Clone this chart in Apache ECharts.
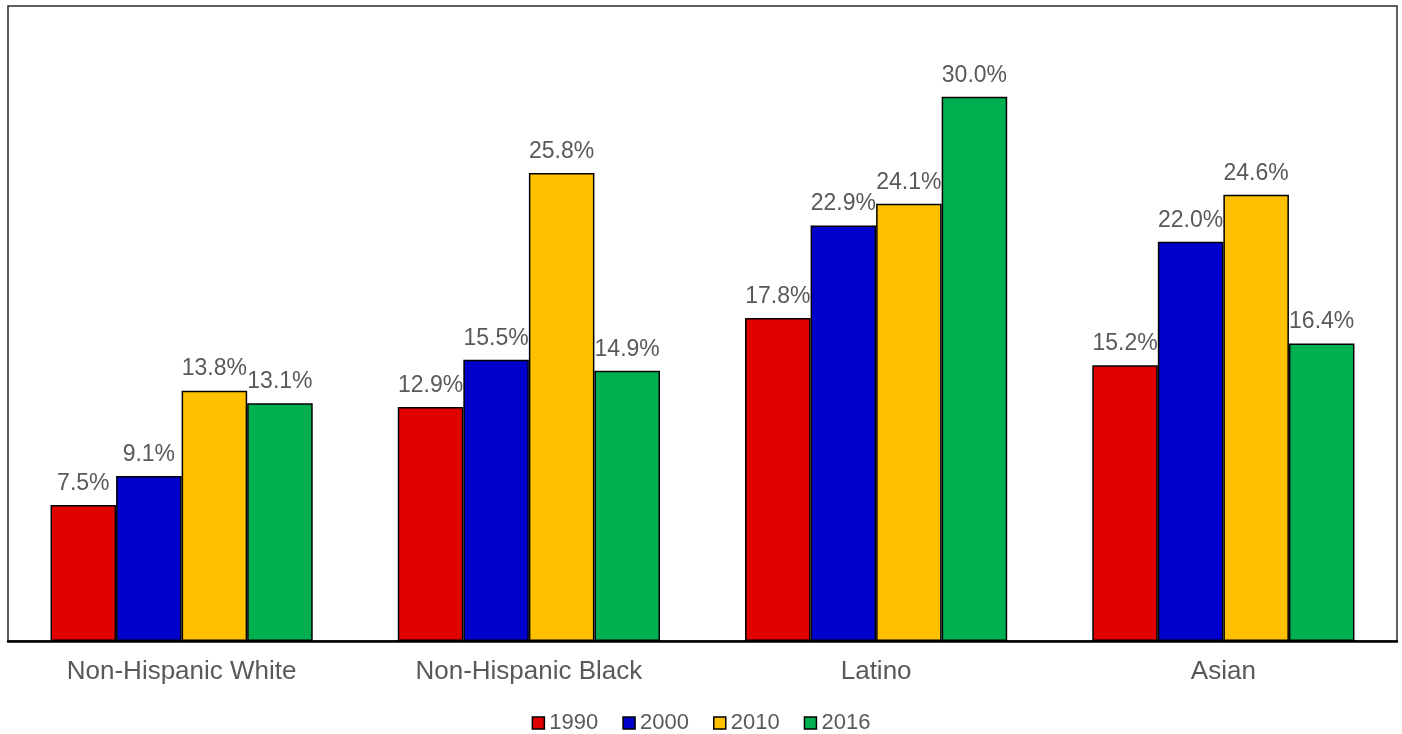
<!DOCTYPE html>
<html>
<head>
<meta charset="utf-8">
<script src="https://cdn.jsdelivr.net/npm/echarts@6/dist/echarts.min.js"></script>
<style>
  html, body { margin: 0; padding: 0; background: #fff; }
  #chart { width: 1402px; height: 734px; }
</style>
</head>
<body>
<div id="chart"></div>
<script>
// Share of each group, by census year (percent)
const categories = ['Non-Hispanic White', 'Non-Hispanic Black', 'Latino', 'Asian'];
const years = ['1990', '2000', '2010', '2016'];
const v1990 = [7.5, 12.9, 17.8, 15.2];
const v2000 = [9.1, 15.5, 22.9, 22.0];
const v2010 = [13.8, 25.8, 24.1, 24.6];
const v2016 = [13.1, 14.9, 30.0, 16.4];
const colors = ['#e00000', '#0000cc', '#ffc000', '#00b050'];

const seriesData = [v1990, v2000, v2010, v2016];
const textColor = '#595959';
const font = '"Liberation Sans", Arial, sans-serif';

const chart = echarts.init(document.getElementById('chart'));
chart.setOption({
  animation: false,
  textStyle: { fontFamily: font },
  grid: {
    left: 8, right: 5, top: 6, bottom: 93,
    show: true, borderColor: '#2a2a2a', borderWidth: 1.5,
    containLabel: false
  },
  legend: {
    top: 707,
    left: 'center',
    itemWidth: 12,
    itemHeight: 12,
    itemGap: 24,
    icon: 'rect',
    itemStyle: { borderColor: '#000', borderWidth: 1.5 },
    textStyle: { color: textColor, fontSize: 22, fontFamily: font },
    data: years
  },
  xAxis: {
    type: 'category',
    data: categories,
    axisLine: { lineStyle: { color: '#000', width: 2.5 } },
    axisTick: { show: false },
    axisLabel: { color: textColor, fontSize: 26, margin: 18, fontFamily: font }
  },
  yAxis: {
    type: 'value',
    min: 0, max: 35,
    show: false,
    splitLine: { show: false }
  },
  series: years.map((y, i) => ({
    name: y,
    type: 'bar',
    data: seriesData[i],
    barGap: '0%',
    barCategoryGap: '24.5%',
    itemStyle: { color: colors[i], borderColor: '#000', borderWidth: 1.5 },
    label: {
      show: true,
      position: 'top',
      distance: 10,
      color: textColor,
      fontSize: 23,
      fontFamily: font,
      formatter: p => p.value.toFixed(1) + '%'
    }
  }))
});
</script>
</body>
</html>
